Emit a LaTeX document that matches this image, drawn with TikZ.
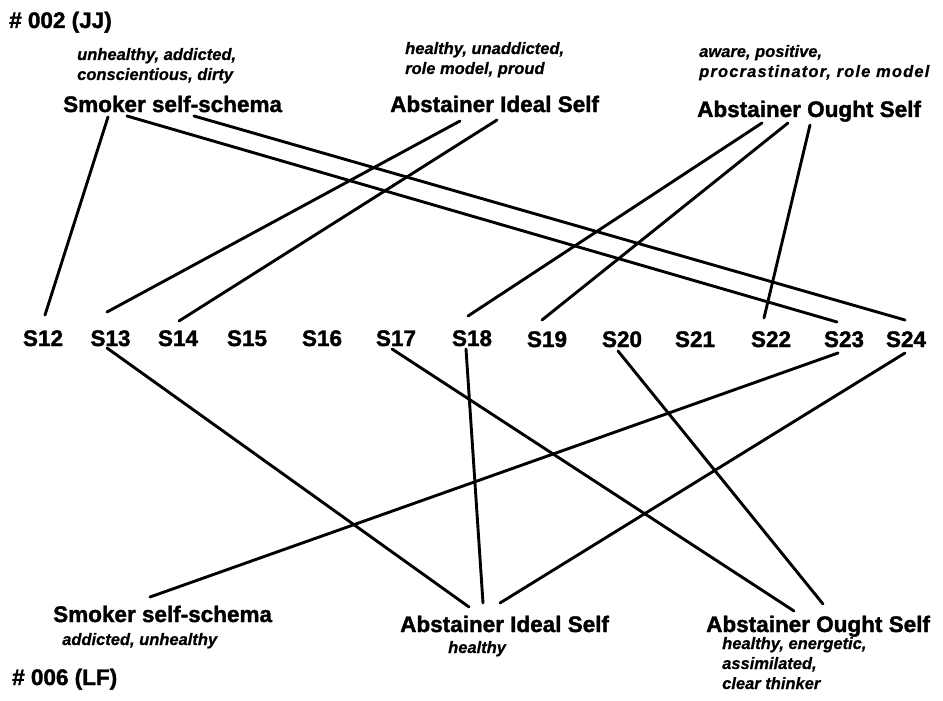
\documentclass[tikz,border=0pt]{standalone}
\usepackage{fontspec}
\setmainfont{Liberation Sans}
\newfontfamily\headfont[FakeBold=1.6]{Liberation Sans Bold}
\newfontfamily\attrfont[FakeBold=0.6]{Liberation Sans Bold Italic}
\usetikzlibrary{calc}
\tikzset{
  head/.style={inner sep=0pt, anchor=base west, font=\fontsize{22.5}{27}\selectfont\headfont},
  slabel/.style={inner sep=0pt, anchor=base, font=\fontsize{22.5}{27}\selectfont\headfont},
  attr/.style={inner sep=0pt, anchor=base west, font=\fontsize{16.5}{20}\selectfont\attrfont},
  link/.style={line width=2.9pt, line cap=round},
}
\begin{document}
\begin{tikzpicture}[x=1pt,y=-1pt]
\useasboundingbox[fill=white] (0,0) rectangle (943,701);

% participant tags
\node[head] (tagA) at (9,28) {\# 002 (JJ)};
\node[head] (tagB) at (12,685) {\# 006 (LF)};

% top selves
\node[head] (smokerT) at (63,112) {Smoker self-schema};
\node[head] (idealT) at (390,112) {Abstainer Ideal Self};
\node[head] (oughtT) at (697,117) {Abstainer Ought Self};

\node[attr] (smokerTa) at (77,60) {unhealthy, addicted,};
\node[attr] (smokerTb) at (77,80) {conscientious, dirty};
\node[attr] (idealTa) at (405,54) {healthy, unaddicted,};
\node[attr] (idealTb) at (405,74) {role model, proud};
\node[attr] (oughtTa) at (699,57) {aware, positive,};
\node[attr, font=\fontsize{16.5}{20}\selectfont\attrfont\addfontfeature{LetterSpace=7}] (oughtTb) at (699,77) {procrastinator, role model};

% bottom selves
\node[head] (smokerB) at (53,622) {Smoker self-schema};
\node[head] (idealB) at (400,632) {Abstainer Ideal Self};
\node[head] (oughtB) at (706,632) {Abstainer Ought Self};

\node[attr] (smokerBa) at (62,645) {addicted, unhealthy};
\node[attr] (idealBa) at (448,653) {healthy};
\node[attr] (oughtBa) at (722,649) {healthy, energetic,};
\node[attr] (oughtBb) at (722,669) {assimilated,};
\node[attr] (oughtBc) at (722,689) {clear thinker};

% S row
\node[slabel] (s12) at (43,346) {S12};
\node[slabel] (s13) at (110.5,346) {S13};
\node[slabel] (s14) at (178,346) {S14};
\node[slabel] (s15) at (247,346) {S15};
\node[slabel] (s16) at (322,346) {S16};
\node[slabel] (s17) at (396,346) {S17};
\node[slabel] (s18) at (472,346) {S18};
\node[slabel] (s19) at (547,347) {S19};
\node[slabel] (s20) at (622,347) {S20};
\node[slabel] (s21) at (695,347) {S21};
\node[slabel] (s22) at (771,347) {S22};
\node[slabel] (s23) at (844,347) {S23};
\node[slabel] (s24) at (906,347) {S24};

% top connectors
\draw[link] ($(smokerT.base west)+(45,5)$) -- ($(s12.base)+(2,-31)$);
\draw[link] ($(smokerT.base west)+(64,4)$) -- ($(s23.base)+(-7,-25)$);
\draw[link] ($(smokerT.base west)+(131,4)$) -- ($(s24.base)+(-1,-27)$);
\draw[link] ($(idealT.base west)+(70,9)$) -- ($(s13.base)+(-3.5,-34)$);
\draw[link] ($(idealT.base west)+(107,8)$) -- ($(s14.base)+(1,-25)$);
\draw[link] ($(oughtT.base west)+(65,6)$) -- ($(s18.base)+(-4,-30)$);
\draw[link] ($(oughtT.base west)+(91,6)$) -- ($(s19.base)+(-5,-27)$);
\draw[link] ($(oughtT.base west)+(113,8)$) -- ($(s22.base)+(-7,-29)$);

% bottom connectors
\draw[link] ($(s13.base)+(-3.5,2)$) -- ($(idealB.base west)+(69,-25)$);
\draw[link] ($(s18.base)+(-6,3)$) -- ($(idealB.base west)+(83,-29)$);
\draw[link] ($(s24.base)+(-1,6)$) -- ($(idealB.base west)+(100,-29)$);
\draw[link] ($(s23.base)+(-6,6)$) -- ($(smokerB.base west)+(97,-25)$);
\draw[link] ($(s17.base)+(-4,3)$) -- ($(oughtB.base west)+(88,-21)$);
\draw[link] ($(s20.base)+(-4,4)$) -- ($(oughtB.base west)+(117,-28)$);
\end{tikzpicture}
\end{document}
